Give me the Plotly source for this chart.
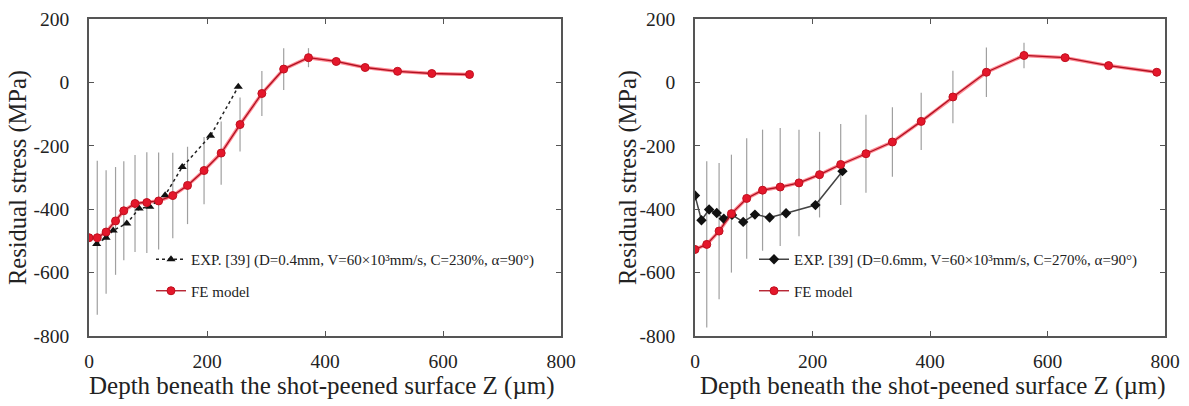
import plotly.graph_objects as go

# ---------------- data ----------------
# Left panel: D=0.4 mm
fe1_x = [0, 14, 29, 45, 59, 78, 98, 118, 142, 167, 195, 224, 256, 293, 330, 372, 419, 468, 523, 581, 645]
fe1_y = [-490, -490, -472, -437, -405, -382, -379, -374, -357, -325, -278, -223, -133, -35, 42, 78, 66, 47, 35, 28, 25]
fe1_err = [0, 243, 195, 170, 156, 153, 159, 153, 135, 122, 106, 100, 85, 71, 66, 30, 0, 0, 0, 0, 0]

exp1_x = [13, 29, 41, 64, 85, 103, 129, 158, 206, 253]
exp1_y = [-510, -490, -467, -445, -398, -392, -356, -267, -168, -14]

# Right panel: D=0.6 mm
fe2_x = [0, 20, 41, 62, 88, 115, 145, 177, 212, 248, 291, 336, 385, 439, 496, 560, 630, 704, 786]
fe2_y = [-527, -511, -469, -414, -366, -340, -330, -317, -291, -259, -225, -188, -123, -46, 32, 85, 78, 53, 32]
fe2_err = [0, 262, 215, 186, 190, 191, 186, 168, 135, 128, 123, 110, 90, 83, 78, 40, 0, 0, 0]

exp2_x = [0, 11, 24, 37, 49, 63, 82, 102, 127, 155, 205, 251]
exp2_y = [-357, -435, -401, -412, -430, -418, -440, -417, -426, -413, -387, -280]

x_ticks = [0, 200, 400, 600, 800]
x_ticktext = ["0", "200", "400", "600", "800"]
y_ticks = [-800, -600, -400, -200, 0, 200]
y_ticktext = ["-800", "-600", "-400", "-200", "0", "200"]

exp1_name = "EXP. [39] (D=0.4mm, V=60×10³mm/s, C=230%, α=90°)"
exp2_name = "EXP. [39] (D=0.6mm, V=60×10³mm/s, C=270%, α=90°)"
fe_name = "FE model"
x_title = "Depth beneath the shot-peened surface Z (µm)"
y_title = "Residual stress (MPa)"

# ---------------- styling ----------------
FONT = "Liberation Serif"
RED = "#e4172b"
HALO = "#ff8a94"
ERR = "#a0a0a0"

W, H = 1189, 406
fig = go.Figure()


def add_panel(sfx, fe_x, fe_y, fe_err, ex_x, ex_y, ex_name, ex_symbol, ex_dash, ex_color, legend):
    xa = "x" + sfx
    ya = "y" + sfx
    # error bars on FE model
    fig.add_trace(go.Scatter(
        x=fe_x, y=fe_y, mode="markers", xaxis=xa, yaxis=ya, showlegend=False,
        marker=dict(size=1, color="rgba(0,0,0,0)"),
        error_y=dict(type="data", array=fe_err, visible=True, color=ERR, thickness=1.2, width=0),
        hoverinfo="skip"))
    # FE halo line
    fig.add_trace(go.Scatter(
        x=fe_x, y=fe_y, mode="lines", xaxis=xa, yaxis=ya, showlegend=False,
        line=dict(color=HALO, width=3.5), hoverinfo="skip"))
    # EXP
    fig.add_trace(go.Scatter(
        x=ex_x, y=ex_y, mode="lines+markers", xaxis=xa, yaxis=ya, name=ex_name,
        legend=legend, legendgroup=legend + "a",
        line=dict(color=ex_color, width=1.5, dash=ex_dash),
        marker=dict(symbol=ex_symbol, size=8, color="#111111")))
    # FE model
    fig.add_trace(go.Scatter(
        x=fe_x, y=fe_y, mode="lines+markers", xaxis=xa, yaxis=ya, name=fe_name,
        legend=legend, legendgroup=legend + "b",
        line=dict(color="#b01020", width=1.3),
        marker=dict(symbol="circle", size=8, color=RED, line=dict(color="#c0101f", width=1))))


add_panel("", fe1_x, fe1_y, fe1_err, exp1_x, exp1_y, exp1_name, "triangle-up", "dot", "#222222", "legend")
add_panel("2", fe2_x, fe2_y, fe2_err, exp2_x, exp2_y, exp2_name, "diamond", "solid", "#444444", "legend2")

ydom = [1 - 336 / H, 1 - 19 / H]
axis_common = dict(
    showgrid=False, zeroline=False, showline=True, linecolor="#555555", linewidth=1.5,
    mirror="ticks", ticks="inside", ticklen=5, tickwidth=1.2, tickcolor="#555555",
    tickfont=dict(family=FONT, size=19.5, color="#222222"),
    automargin=False,
)

layout_axes = {}
for sfx, (l, r) in (("", (89, 561)), ("2", (695, 1165))):
    layout_axes["xaxis" + sfx] = dict(
        axis_common, domain=[l / W, r / W], range=[0, 800],
        tickvals=x_ticks, ticktext=x_ticktext, ticklabelstandoff=7,
        anchor="y" + sfx)
    layout_axes["yaxis" + sfx] = dict(
        axis_common, domain=ydom, range=[-800, 200],
        tickvals=y_ticks, ticktext=y_ticktext, ticklabelstandoff=14,
        anchor="x" + sfx)

legend_common = dict(
    font=dict(family=FONT, size=15, color="#222222"),
    bgcolor="rgba(0,0,0,0)", borderwidth=0, tracegroupgap=9,
    itemwidth=30, xanchor="left", yanchor="top",
)

annotations = []
for cx in (322, 933):
    annotations.append(dict(
        text=x_title, x=cx / W, y=1 - 386 / H, xref="paper", yref="paper",
        xanchor="center", yanchor="middle", showarrow=False,
        font=dict(family=FONT, size=25, color="#222222")))
for cx in (18, 628):
    annotations.append(dict(
        text=y_title, x=cx / W, y=1 - 178 / H, xref="paper", yref="paper",
        xanchor="center", yanchor="middle", showarrow=False, textangle=-90,
        font=dict(family=FONT, size=24.5, color="#222222")))

fig.update_layout(
    width=W, height=H,
    margin=dict(l=0, r=0, t=0, b=0, autoexpand=False),
    paper_bgcolor="white", plot_bgcolor="white",
    legend=dict(legend_common, x=151 / W, y=1 - 243 / H),
    legend2=dict(legend_common, x=754 / W, y=1 - 243 / H),
    annotations=annotations,
    **layout_axes,
)

fig.write_html(
    "out.html",
    config={"displayModeBar": False},
    post_script="document.body.style.margin='0';document.body.style.overflow='hidden';",
)
